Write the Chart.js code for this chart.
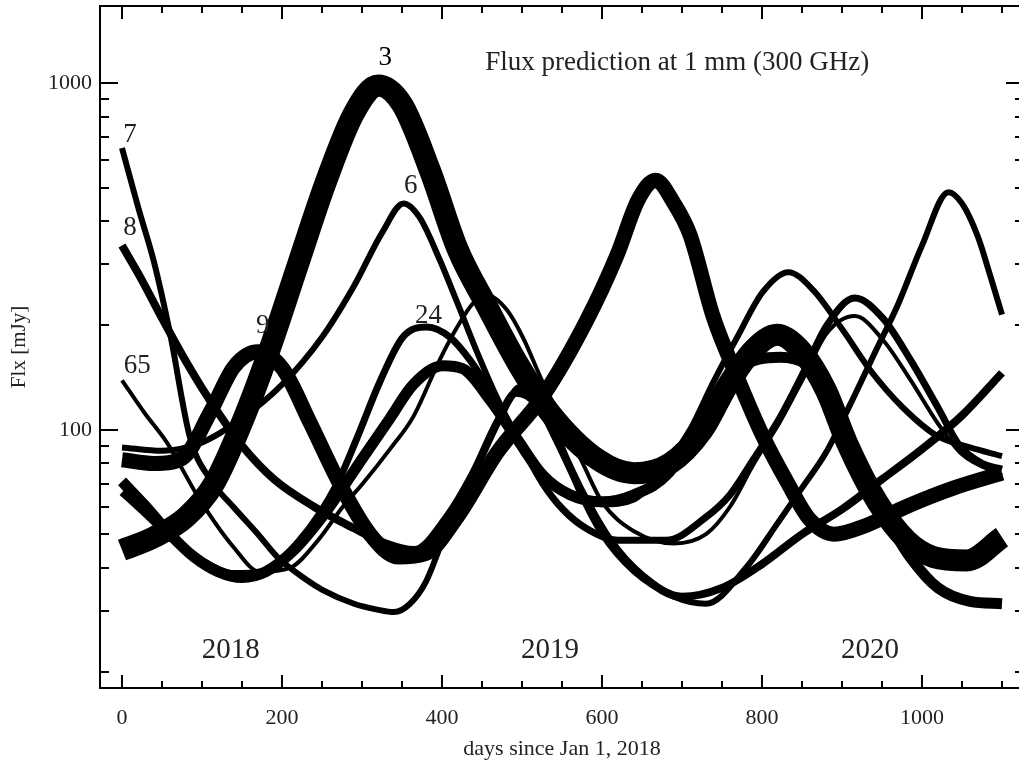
<!DOCTYPE html>
<html>
<head>
<meta charset="utf-8">
<script src="https://cdn.jsdelivr.net/npm/chart.js@4.4.1/dist/chart.umd.min.js"></script>
<style>
  html, body { margin: 0; padding: 0; background: #fff; overflow: hidden; width: 1019px; height: 765px; }
  canvas { display: block; }
</style>
</head>
<body>
<canvas id="myChart" width="1030" height="765"></canvas>
<script>
// tick values
var xTicks = [0, 50, 100, 150, 200, 250, 300, 350, 400, 450, 500, 550, 600, 650, 700, 750, 800, 850, 900, 950, 1000, 1050, 1100];
var yTicks = [20, 30, 40, 50, 60, 70, 80, 90, 100, 200, 300, 400, 500, 600, 700, 800, 900, 1000];

// flux curves (days since Jan 1 2018, mJy)
var c3Days = [0, 40, 80, 115, 150, 185, 220, 255, 290, 320, 350, 385, 420, 455, 495, 535, 595, 640, 685, 726, 756, 789, 819, 850, 880, 906, 944, 981, 1014, 1056, 1100];
var c3Flux = [45, 49, 56, 70, 105, 172, 300, 520, 820, 985, 870, 560, 330, 230, 155, 112, 82, 75, 80, 100, 133, 170, 188, 168, 130, 92, 62, 48, 43, 42, 49];

var c6Days = [0, 50, 100, 150, 200, 250, 290, 325, 352, 372, 397, 420, 445, 470, 500, 530, 560, 600, 640, 685, 710, 739, 769, 801, 833, 864, 901, 935, 976, 1019, 1060, 1100];
var c6Flux = [89, 87, 92, 108, 135, 185, 260, 370, 450, 410, 310, 230, 165, 122, 90, 74, 65, 61, 63, 82, 100, 137, 185, 250, 285, 253, 194, 149, 116, 96, 89, 84];

var c7Days = [0, 20, 40, 60, 85, 110, 139, 170, 194, 230, 251, 290, 319, 340, 360, 380, 401, 431, 460, 485, 497, 520, 545, 570, 600, 640, 690, 730, 780, 820, 850, 880, 910, 940, 970, 1000, 1033, 1050, 1070, 1085, 1100];
var c7Flux = [650, 440, 305, 190, 95, 72, 60, 50, 43, 37, 34.5, 31.5, 30.3, 29.8, 31.5, 36.5, 48, 67, 94, 124, 133, 122, 95, 68, 50, 39, 33, 31.5, 40, 54, 68, 86, 118, 165, 230, 340, 485, 450, 360, 280, 215];

var c8Days = [0, 25, 50, 75, 100, 125, 150, 190, 240, 290, 330, 365, 406, 439, 469, 493, 520, 545, 575, 610, 650, 700, 750, 800, 850, 900, 950, 1000, 1050, 1100];
var c8Flux = [340, 270, 210, 165, 132, 108, 90, 72, 60, 52, 47, 45, 56, 75, 105, 128, 118, 92, 66, 48, 38, 33, 35, 41, 50, 59, 72, 88, 110, 146];

var c9Days = [0, 40, 76, 110, 140, 170, 201, 235, 272, 310, 345, 380, 419, 469, 526, 580, 619, 645, 667, 690, 710, 739, 769, 801, 831, 860, 890, 930, 980, 1040, 1100];
var c9Flux = [82, 80, 83, 112, 152, 168, 150, 105, 70, 50, 43, 44, 56, 86, 125, 205, 320, 460, 525, 450, 365, 212, 142, 96, 71, 55, 50, 53, 60, 68, 75];

var c24Days = [0, 30, 60, 100, 140, 175, 222, 269, 294, 322, 351, 381, 410, 435, 460, 494, 526, 551, 580, 620, 680, 730, 760, 789, 822, 851, 881, 916, 951, 985, 1019, 1047, 1075, 1100];
var c24Flux = [66, 57, 49, 42, 38.5, 39, 48, 70, 95, 137, 185, 198, 185, 159, 130, 95, 70, 59, 52, 48, 48, 56, 65, 82, 108, 145, 200, 240, 210, 160, 117, 90, 80, 77];

var c65Days = [0, 28, 56, 97, 139, 172, 210, 245, 276, 301, 335, 364, 397, 419, 439, 456, 481, 501, 526, 551, 576, 600, 640, 690, 730, 760, 790, 822, 851, 881, 916, 951, 985, 1019, 1050, 1100];
var c65Flux = [139, 112, 92, 63, 46, 39, 40, 48, 60, 70, 88, 109, 159, 198, 232, 245, 222, 185, 137, 105, 80, 62, 51, 47, 50, 60, 80, 105, 140, 190, 213, 182, 140, 105, 85, 74];

var cXDays = [0, 30, 60, 90, 120, 150, 180, 215, 250, 272, 301, 335, 364, 401, 426, 460, 494, 526, 560, 600, 640, 683, 707, 727, 747, 770, 822, 855, 885, 901, 931, 956, 985, 1020, 1060, 1100];
var cXFlux = [71, 60, 50, 43, 39, 37.5, 39, 45, 56, 66, 83, 108, 135, 153, 150, 122, 94, 74, 65, 62, 65, 75, 92, 110, 130, 150, 162, 155, 130, 95, 67, 55, 43, 35, 32, 31.5];

var serif = "'Liberation Serif', 'Times New Roman', serif";

function pts(days, flux) {
    return days.map(function(d, i) { return { x: d, y: flux[i] }; });
}

function band(label, days, flux, width) {
    return {
        label: label,
        data: pts(days, flux),
        borderColor: "#000",
        borderWidth: width,
        borderCapStyle: "butt",
        borderJoinStyle: "round",
        pointRadius: 0,
        fill: false,
        cubicInterpolationMode: "monotone",
    };
}

// no extra room for end labels, the plot box is fixed
function noPad(s) {
    s.paddingTop = 0;
    s.paddingBottom = 0;
    s.paddingLeft = 0;
    s.paddingRight = 0;
}

// frame with inward ticks on all four sides
var framePlugin = {
    id: "frame",
    afterDatasetsDraw: function(chart) {
        var ctx = chart.ctx, a = chart.chartArea;
        var xs = chart.scales.x, ys = chart.scales.y;
        ctx.save();
        ctx.strokeStyle = "#000";
        ctx.lineWidth = 2;
        ctx.strokeRect(a.left, a.top, a.right - a.left, a.bottom - a.top);
        ctx.beginPath();
        xTicks.forEach(function(v) {
            var px = Math.round(xs.getPixelForValue(v));
            var len = v % 200 === 0 ? 13 : 7;
            ctx.moveTo(px, a.bottom); ctx.lineTo(px, a.bottom - len);
            ctx.moveTo(px, a.top); ctx.lineTo(px, a.top + len);
        });
        yTicks.forEach(function(v) {
            var py = Math.round(ys.getPixelForValue(v));
            var len = (v === 100 || v === 1000) ? 18 : 9;
            ctx.moveTo(a.left, py); ctx.lineTo(a.left + len, py);
            ctx.moveTo(a.right, py); ctx.lineTo(a.right - len, py);
        });
        ctx.stroke();
        ctx.restore();
    }
};

// text annotations placed in data coordinates
var notes = [
    { text: "7", day: 10, flux: 677, size: 27, color: "#222" },
    { text: "8", day: 10, flux: 365, size: 27, color: "#222" },
    { text: "65", day: 19, flux: 146, size: 27, color: "#222" },
    { text: "9", day: 176, flux: 190, size: 27, color: "#222" },
    { text: "3", day: 329, flux: 1129, size: 27, color: "#000" },
    { text: "6", day: 361, flux: 482, size: 27, color: "#222" },
    { text: "24", day: 383, flux: 203, size: 27, color: "#222" },
    { text: "2018", day: 136, flux: 22, size: 29, color: "#222" },
    { text: "2019", day: 535, flux: 22, size: 29, color: "#222" },
    { text: "2020", day: 935, flux: 22, size: 29, color: "#222" },
    { text: "Flux prediction at 1 mm (300 GHz)", day: 694, flux: 1092, size: 27, color: "#222" },
];

var notePlugin = {
    id: "notes",
    afterDraw: function(chart) {
        var ctx = chart.ctx, xs = chart.scales.x, ys = chart.scales.y;
        ctx.save();
        ctx.textAlign = "center";
        ctx.textBaseline = "alphabetic";
        notes.forEach(function(n) {
            ctx.font = n.size + "px " + serif;
            ctx.fillStyle = n.color;
            ctx.fillText(n.text, xs.getPixelForValue(n.day), ys.getPixelForValue(n.flux));
        });
        ctx.restore();
    }
};

window.onload = function() {
    var ctx = document.getElementById("myChart").getContext("2d");
    var myChart = new Chart(ctx, {
        type: "line",
        data: {
            datasets: [
                band("3", c3Days, c3Flux, 22),
                band("9", c9Days, c9Flux, 15),
                band("x", cXDays, cXFlux, 11),
                band("8", c8Days, c8Flux, 8),
                band("24", c24Days, c24Flux, 7),
                band("6", c6Days, c6Flux, 6),
                band("7", c7Days, c7Flux, 6),
                band("65", c65Days, c65Flux, 4),
            ],
        },
        options: {
            responsive: false,
            animation: false,
            devicePixelRatio: 1,
            layout: { padding: { top: 6, right: 6, left: 0, bottom: 0 } },
            plugins: {
                legend: { display: false },
                tooltip: { enabled: false },
            },
            scales: {
                x: {
                    type: "linear",
                    min: -27.5,
                    max: 1127.5,
                    afterBuildTicks: function(s) { s.ticks = xTicks.map(function(v) { return { value: v }; }); },
                    afterFit: function(s) { s.height = 77; noPad(s); },
                    grid: { display: false, drawTicks: false },
                    border: { display: false },
                    ticks: {
                        autoSkip: false,
                        maxRotation: 0,
                        padding: 17,
                        color: "#222",
                        font: { family: serif, size: 22 },
                        callback: function(v) { return v % 200 === 0 ? String(v) : ""; },
                    },
                    title: {
                        display: true,
                        text: "days since Jan 1, 2018",
                        color: "#222",
                        font: { family: serif, size: 22 },
                        padding: { top: 0, bottom: 3 },
                    },
                },
                y: {
                    type: "logarithmic",
                    min: 18,
                    max: 1670,
                    afterBuildTicks: function(s) { s.ticks = yTicks.map(function(v) { return { value: v }; }); },
                    afterFit: function(s) { s.width = 100; noPad(s); },
                    grid: { display: false, drawTicks: false },
                    border: { display: false },
                    ticks: {
                        autoSkip: false,
                        padding: 8,
                        color: "#222",
                        font: { family: serif, size: 22 },
                        callback: function(v) { return (v === 100 || v === 1000) ? String(v) : ""; },
                    },
                    title: {
                        display: true,
                        text: "Flx [mJy]",
                        color: "#222",
                        font: { family: serif, size: 21 },
                        padding: { top: 7, bottom: 0 },
                    },
                },
            },
        },
        plugins: [framePlugin, notePlugin],
    });
};
</script>
</body>
</html>
